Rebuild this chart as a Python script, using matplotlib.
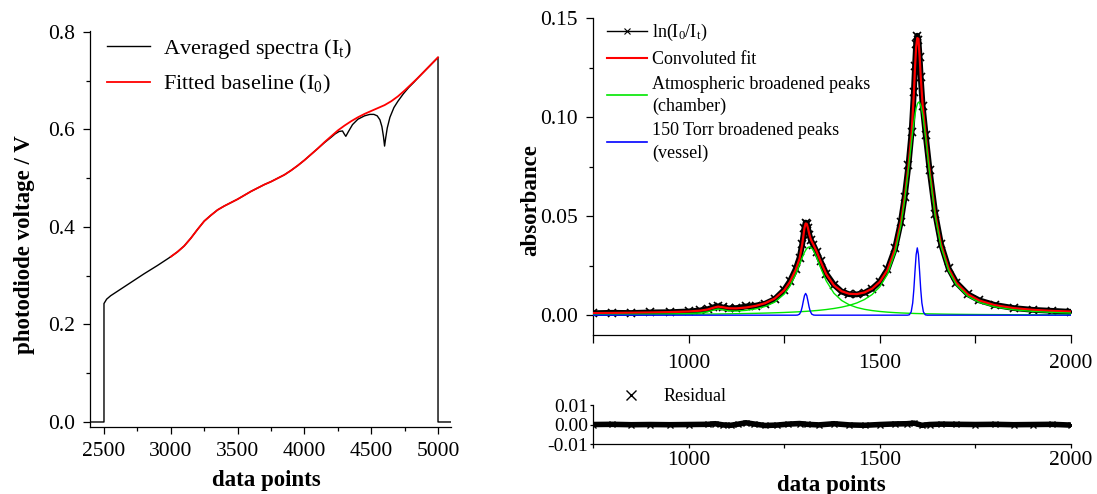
import matplotlib
matplotlib.use('Agg')
import matplotlib.pyplot as plt
from matplotlib.lines import Line2D
from matplotlib.ticker import MultipleLocator, FormatStrFormatter

plt.rcParams['font.family'] = 'Liberation Serif'
plt.rcParams['mathtext.fontset'] = 'custom'
plt.rcParams['mathtext.rm'] = 'Liberation Serif'
plt.rcParams['mathtext.it'] = 'Liberation Serif:italic'
plt.rcParams['mathtext.bf'] = 'Liberation Serif:bold'
plt.rcParams['axes.unicode_minus'] = False

# ---- left panel: raw photodiode trace and fitted baseline ----
spec_x = [2390, 2500, 2500, 2520, 2550, 2600, 2700, 2800, 2900, 3000, 3050, 3100, 3150,
          3200, 3250, 3300, 3350, 3400, 3450, 3500, 3550, 3600, 3650, 3700, 3750, 3800,
          3850, 3900, 3950, 4000, 4050, 4100, 4150, 4200, 4230, 4260, 4285, 4300, 4310,
          4330, 4360, 4400, 4450, 4490, 4520, 4545, 4565, 4580, 4592, 4600, 4608, 4620,
          4640, 4670, 4700, 4740, 4780, 4820, 4850, 4900, 4950, 5000, 5000, 5100]
spec_y = [0.0, 0.0, 0.243, 0.252, 0.259, 0.268, 0.286, 0.304, 0.321, 0.339, 0.349, 0.361,
          0.377, 0.395, 0.412, 0.424, 0.435, 0.443, 0.450, 0.457, 0.465, 0.473, 0.480,
          0.487, 0.493, 0.500, 0.507, 0.516, 0.526, 0.537, 0.549, 0.561, 0.573, 0.584,
          0.591, 0.596, 0.597, 0.590, 0.586, 0.596, 0.610, 0.621, 0.628, 0.631, 0.631,
          0.628, 0.620, 0.606, 0.585, 0.566, 0.582, 0.603, 0.625, 0.645, 0.658, 0.673,
          0.686, 0.697, 0.706, 0.720, 0.734, 0.748, 0.0, 0.0]

base_x = [3000, 3050, 3100, 3150, 3200, 3250, 3300, 3350, 3400, 3450, 3500, 3550, 3600,
          3650, 3700, 3750, 3800, 3850, 3900, 3950, 4000, 4050, 4100, 4150, 4200, 4250,
          4300, 4350, 4400, 4450, 4500, 4550, 4600, 4650, 4700, 4750, 4800, 4850, 4900,
          4950, 5000]
base_y = [0.339, 0.349, 0.361, 0.377, 0.395, 0.412, 0.424, 0.435, 0.443, 0.450, 0.457,
          0.465, 0.473, 0.480, 0.487, 0.493, 0.500, 0.507, 0.516, 0.526, 0.537, 0.549,
          0.561, 0.574, 0.586, 0.598, 0.608, 0.617, 0.625, 0.632, 0.638, 0.644, 0.650,
          0.658, 0.668, 0.680, 0.693, 0.706, 0.720, 0.734, 0.748]

# ---- right panel: absorbance, fit and components ----
fit_x = [750, 800, 850, 900, 950, 1000, 1030, 1050, 1065, 1077, 1090, 1105, 1125, 1150,
         1175, 1200, 1225, 1250, 1265, 1280, 1290, 1297, 1303, 1306, 1309, 1312, 1316,
         1320, 1326, 1335, 1345, 1360, 1380, 1400, 1420, 1440, 1460, 1480, 1500, 1520,
         1540, 1555, 1565, 1575, 1583, 1589, 1592, 1595, 1598, 1601, 1604, 1607, 1612,
         1620, 1630, 1645, 1660, 1680, 1700, 1730, 1760, 1800, 1850, 1900, 1950, 2000]

absorb = [0.0010, 0.0012, 0.0011, 0.0014, 0.0015, 0.0019, 0.0024, 0.0030, 0.0040, 0.0045,
          0.0039, 0.0034, 0.0036, 0.0044, 0.0048, 0.0058, 0.0081, 0.0128, 0.0172, 0.0233,
          0.0290, 0.0358, 0.0443, 0.0468, 0.0463, 0.0441, 0.0404, 0.0378, 0.0356, 0.0319,
          0.0273, 0.0209, 0.0154, 0.0119, 0.0106, 0.0105, 0.0113, 0.0134, 0.0169, 0.0231,
          0.0338, 0.0472, 0.0598, 0.0759, 0.0923, 0.1126, 0.1258, 0.1372, 0.1412, 0.1390,
          0.1306, 0.1201, 0.1057, 0.0909, 0.0736, 0.0513, 0.0360, 0.0236, 0.0165, 0.0106,
          0.0075, 0.0052, 0.0036, 0.0027, 0.0022, 0.0017]

conv_fit = [0.00106, 0.00113, 0.00123, 0.00136, 0.00155, 0.00188, 0.00228, 0.00288, 0.00377,
            0.00435, 0.00399, 0.00349, 0.00344, 0.00388, 0.00470, 0.00606, 0.00838, 0.01262,
            0.01684, 0.02293, 0.02846, 0.03573, 0.04413, 0.04636, 0.04613, 0.04403, 0.04056,
            0.03804, 0.03575, 0.03206, 0.02722, 0.02073, 0.01508, 0.01210, 0.01081, 0.01066,
            0.01148, 0.01339, 0.01684, 0.02284, 0.03354, 0.04698, 0.05970, 0.07563, 0.09176,
            0.11191, 0.12503, 0.13551, 0.14000, 0.13961, 0.13103, 0.12044, 0.10607, 0.09098,
            0.07355, 0.05118, 0.03587, 0.02353, 0.01643, 0.01057, 0.00743, 0.00511, 0.00357,
            0.00271, 0.00217, 0.00183]

atm_peak_a = [0.00022, 0.00026, 0.00033, 0.00041, 0.00055, 0.00081, 0.00116, 0.00172, 0.00257,
              0.00313, 0.00274, 0.00220, 0.00209, 0.00244, 0.00316, 0.00440, 0.00658, 0.01065,
              0.01474, 0.02069, 0.02559, 0.02910, 0.03175, 0.03283, 0.03367, 0.03424, 0.03452,
              0.03424, 0.03283, 0.02910, 0.02407, 0.01727, 0.01109, 0.00744, 0.00525, 0.00387,
              0.00296, 0.00233, 0.00188, 0.00154, 0.00129, 0.00114, 0.00106, 0.00098, 0.00092,
              0.00088, 0.00086, 0.00084, 0.00083, 0.00081, 0.00080, 0.00078, 0.00076, 0.00072,
              0.00067, 0.00062, 0.00056, 0.00050, 0.00045, 0.00039, 0.00034, 0.00029, 0.00024,
              0.00020, 0.00017, 0.00015]

atm_peak_b = [0.00024, 0.00027, 0.00030, 0.00035, 0.00040, 0.00047, 0.00052, 0.00056, 0.00060,
              0.00062, 0.00065, 0.00069, 0.00075, 0.00084, 0.00094, 0.00106, 0.00120, 0.00137,
              0.00150, 0.00164, 0.00174, 0.00182, 0.00189, 0.00193, 0.00197, 0.00201, 0.00207,
              0.00212, 0.00222, 0.00236, 0.00255, 0.00286, 0.00339, 0.00406, 0.00496, 0.00619,
              0.00792, 0.01046, 0.01436, 0.02070, 0.03165, 0.04524, 0.05804, 0.07399, 0.08787,
              0.09741, 0.10137, 0.10450, 0.10663, 0.10763, 0.10743, 0.10604, 0.10137, 0.08956,
              0.07228, 0.04996, 0.03471, 0.02243, 0.01538, 0.00958, 0.00649, 0.00422, 0.00273,
              0.00191, 0.00140, 0.00108]

vessel_x = [750, 1280, 1285, 1290, 1294, 1297, 1300, 1303, 1306, 1309, 1312, 1315, 1318,
            1322, 1327, 1332, 1572, 1577, 1582, 1586, 1589, 1592, 1595, 1598, 1601, 1604,
            1607, 1610, 1614, 1619, 1624, 2000]
vessel_y = [0.0, 0.0, 0.00006, 0.00053, 0.00200, 0.00421, 0.00718, 0.00989, 0.01100, 0.00989,
            0.00718, 0.00421, 0.00200, 0.00053, 0.00006, 0.0, 0.00001, 0.00018, 0.00164,
            0.00619, 0.01302, 0.02220, 0.03057, 0.03400, 0.03057, 0.02220, 0.01302, 0.00619,
            0.00164, 0.00018, 0.00001, 0.0]

resid_x = [750, 800, 850, 900, 950, 1000, 1050, 1070, 1090, 1110, 1130, 1150, 1170, 1200,
           1230, 1260, 1290, 1310, 1340, 1380, 1420, 1460, 1500, 1540, 1570, 1590, 1610,
           1630, 1660, 1700, 1750, 1800, 1850, 1900, 1950, 2000]
resid_y = [0.0, 0.0001, -0.0001, 0.0, -0.0001, 0.0, 0.0001, 0.0004, -0.0002, -0.0004, 0.0002,
           0.0009, 0.0003, -0.0005, -0.0003, 0.0002, 0.0005, 0.0001, -0.0002, 0.0004, -0.0002,
           -0.0004, 0.0, 0.0003, 0.0004, 0.0007, -0.0004, 0.0, 0.0002, 0.0001, 0.0, 0.0001,
           -0.0001, 0.0, 0.0001, -0.0003]

GREEN = '#00e600'


def clean_axes(ax):
  for side in ('top', 'right'):
    ax.spines[side].set_visible(False)
  for side in ('left', 'bottom'):
    ax.spines[side].set_linewidth(0.9)


fig = plt.figure(figsize=(10.97, 4.94), dpi=100)
ax1 = fig.add_axes([0.0820, 0.1356, 0.3291, 0.8016])
ax2 = fig.add_axes([0.5406, 0.3219, 0.4357, 0.6411])
ax3 = fig.add_axes([0.5406, 0.1012, 0.4357, 0.0789])

# left panel
ax1.plot(spec_x, spec_y, color='black', lw=1.0, label=r'Averaged spectra (I$_\mathrm{t}$)')
ax1.plot(base_x, base_y, color='red', lw=1.3, label=r'Fitted baseline (I$_0$)')
ax1.set_xlim(2395, 5097)
ax1.set_ylim(-0.0103, 0.802)
ax1.xaxis.set_major_locator(MultipleLocator(500))
ax1.xaxis.set_minor_locator(MultipleLocator(250))
ax1.yaxis.set_major_locator(MultipleLocator(0.2))
ax1.yaxis.set_minor_locator(MultipleLocator(0.1))
ax1.yaxis.set_major_formatter(FormatStrFormatter('%.1f'))
ax1.legend(loc='upper left', bbox_to_anchor=(0.0975, 0.926), bbox_transform=fig.transFigure,
           frameon=False, fontsize=16, handlelength=1.95, handletextpad=0.55,
           labelspacing=0.55, borderpad=0, borderaxespad=0)

# right main panel
ax2.plot(fit_x, absorb, color='black', lw=4.2, marker='x', ms=5.5, mew=1.2, zorder=2)
ax2.plot(fit_x, conv_fit, color='red', lw=1.6, zorder=3)
ax2.plot(fit_x, atm_peak_a, color=GREEN, lw=1.0, zorder=4)
ax2.plot(fit_x, atm_peak_b, color=GREEN, lw=1.0, zorder=4)
ax2.plot(vessel_x, vessel_y, color='blue', lw=1.0, zorder=5)
ax2.set_xlim(750, 2000)
ax2.set_ylim(-0.01, 0.15)
ax2.xaxis.set_major_locator(MultipleLocator(500))
ax2.xaxis.set_minor_locator(MultipleLocator(250))
ax2.yaxis.set_major_locator(MultipleLocator(0.05))
ax2.yaxis.set_minor_locator(MultipleLocator(0.025))
ax2.yaxis.set_major_formatter(FormatStrFormatter('%.2f'))

handles = [Line2D([], [], color='black', lw=1.0, marker='x', ms=4, mew=0.8),
           Line2D([], [], color='red', lw=1.5),
           Line2D([], [], color=GREEN, lw=1.2),
           Line2D([], [], color='blue', lw=1.2)]
labels = [r'ln(I$_0$/I$_\mathrm{t}$)', 'Convoluted fit',
          'Atmospheric broadened peaks\n(chamber)', '150 Torr broadened peaks\n(vessel)']
leg = ax2.legend(handles, labels, loc='upper left', bbox_to_anchor=(0.5533, 0.955),
                 bbox_transform=fig.transFigure, frameon=False, fontsize=13,
                 handlelength=2.2, handletextpad=0.3, labelspacing=0.42,
                 borderpad=0, borderaxespad=0)
for t in leg.get_texts():
  t.set_linespacing(1.38)

# residual panel
ax3.plot(resid_x, resid_y, color='black', lw=4.0, marker='x', ms=4, mew=1.0)
ax3.set_xlim(750, 2000)
ax3.set_ylim(-0.01, 0.01)
ax3.set_yticks([-0.01, 0.0, 0.01])
ax3.yaxis.set_major_formatter(FormatStrFormatter('%.2f'))
ax3.xaxis.set_major_locator(MultipleLocator(500))
ax3.xaxis.set_minor_locator(MultipleLocator(250))
ax3.legend([Line2D([], [], ls='none', marker='x', color='black', ms=7, mew=1.0)], ['Residual'],
           loc='center left', bbox_to_anchor=(0.5588, 0.1964), bbox_transform=fig.transFigure,
           frameon=False, fontsize=13, handlelength=2.0, handletextpad=0.8,
           borderpad=0, borderaxespad=0)

for ax in (ax1, ax2, ax3):
  clean_axes(ax)
  ax.tick_params(which='major', direction='out', length=5, width=0.9, labelsize=15.5, pad=6)
  ax.tick_params(which='minor', direction='out', length=3, width=0.9)
ax2.tick_params(axis='x', which='both', length=6, pad=8)
ax3.tick_params(axis='y', which='both', length=2, labelsize=14, pad=1.5)
ax3.tick_params(axis='x', which='both', length=3, pad=2)

# axis titles placed in figure coordinates
fig.text(25 / 1097, 1 - 245 / 494, 'photodiode voltage / V', rotation=90,
         ha='center', va='center', fontsize=16.5, fontweight='bold')
fig.text(266 / 1097, 1 - 480 / 494, 'data points',
         ha='center', va='center', fontsize=16.5, fontweight='bold')
fig.text(531 / 1097, 1 - 200 / 494, 'absorbance', rotation=90,
         ha='center', va='center', fontsize=16.5, fontweight='bold')
fig.text(831 / 1097, 1 - 485 / 494, 'data points',
         ha='center', va='center', fontsize=16.5, fontweight='bold')

fig.savefig('out.png', dpi=100)
